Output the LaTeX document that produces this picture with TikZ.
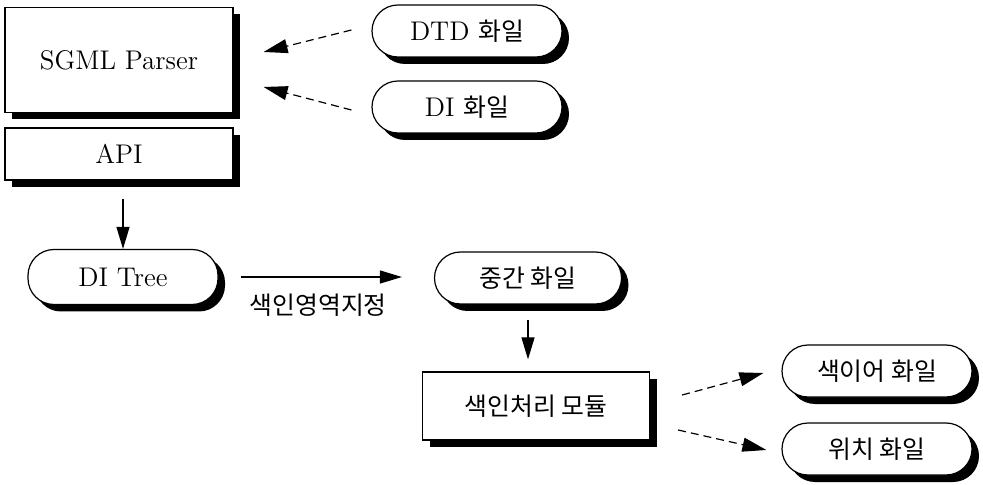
\documentclass[tikz,border=0pt]{standalone}
\usepackage{fontspec}
\newfontfamily\kr{Noto Sans CJK KR}[Scale=0.92]
\usepackage{tikz}
\tikzset{>=stealth}
\usetikzlibrary{arrows.meta, shadows, positioning}

\begin{document}
\begin{tikzpicture}[x=0.5pt, y=-0.5pt,
  font=\fontsize{13.5}{16}\selectfont,
  dropsh/.style={drop shadow={fill=black, opacity=1, shadow xshift=3.5pt, shadow yshift=-3.5pt}},
  box/.style={draw, fill=white, line width=0.6pt, dropsh, inner sep=0pt},
  pill/.style={box, rounded corners=13pt, minimum width=95pt, minimum height=26pt},
  arr/.style={->, line width=0.6pt, >={Triangle[length=11pt, width=6.5pt]}},
  dasharr/.style={arr, dash pattern=on 4pt off 2.5pt, >={Triangle[length=12pt, width=7pt]}}]
  \useasboundingbox (0,0) rectangle (983,485);

  % Parser and API
  \node[box, minimum width=114pt, minimum height=52.5pt] (sgml) at (119,60) {SGML Parser};
  \node[box, minimum width=114pt, minimum height=26pt] (api) at (119,154) {API};

  % input files
  \node[pill] (dtd) at (467,31) {DTD {\kr 화일}};
  \node[pill] (dif) at (467,107) {DI {\kr 화일}};

  % tree and intermediate file
  \node[pill, minimum height=27.5pt] (ditree) at (123,277) {DI Tree};
  \node[pill, minimum width=93.5pt] (mid) at (528,278) {\kr 중간 화일};

  % index module and its outputs
  \node[box, minimum width=113.5pt, minimum height=34pt] (idx) at (536,406) {\kr 색인처리 모듈};
  \node[pill] (keyw) at (877,371) {\kr 색이어 화일};
  \node[pill] (pos) at (877,449) {\kr 위치 화일};

  % Dashed arrows into the parser
  \draw[dasharr] ([shift={(-10pt,0.5pt)}]dtd.west) -- ([shift={(15pt,4pt)}]sgml.east);
  \draw[dasharr] ([shift={(-10pt,-1.5pt)}]dif.west) -- ([shift={(15pt,-13.5pt)}]sgml.east);

  % Main flow
  \draw[arr, shorten <=9pt] (api.south -| ditree.north) -- (ditree.north);
  \draw[arr, shorten <=11pt, shorten >=16pt] (ditree.east) -- (ditree.east -| mid.west)
    node[midway, below=5pt, xshift=-4pt] (zone) {\kr 색인영역지정};
  \draw[arr, shorten <=7.5pt, shorten >=6pt] (mid.south) -- (mid.south |- idx.north);

  % Dashed arrows out of the module
  \draw[dasharr] ([shift={(16pt,5.5pt)}]idx.east) -- ([shift={(-9pt,-1pt)}]keyw.west);
  \draw[dasharr] ([shift={(14pt,-12pt)}]idx.east) -- ([shift={(-7.5pt,-0.5pt)}]pos.west);
\end{tikzpicture}
\end{document}
